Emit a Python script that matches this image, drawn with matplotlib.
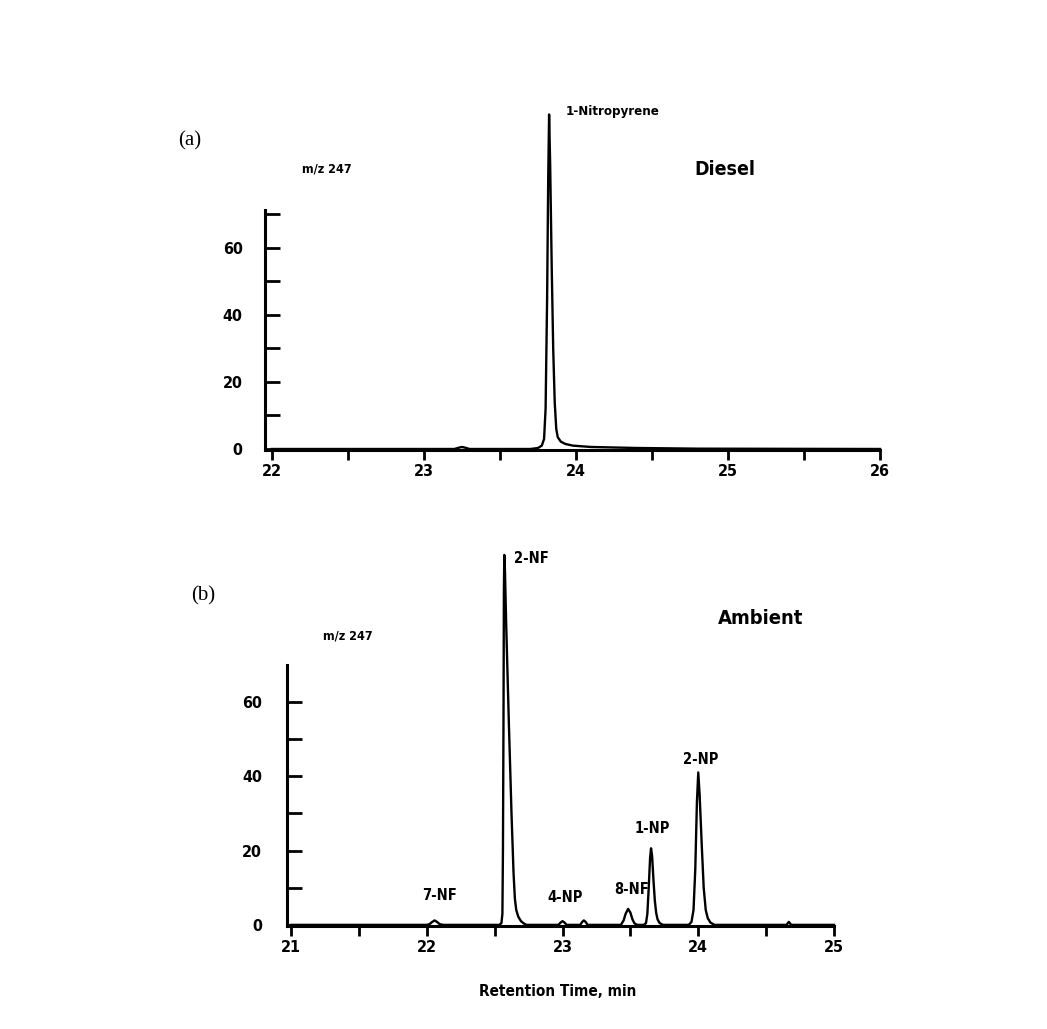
import matplotlib
matplotlib.use("Agg")
import matplotlib.pyplot as plt
from matplotlib import font_manager
from matplotlib.font_manager import FontProperties
from matplotlib.ticker import MultipleLocator

# trace (a): diesel, m/z 247
time_a = [22.0, 23.20, 23.23, 23.25, 23.27, 23.30, 23.70, 23.75, 23.775, 23.79, 23.80,
          23.81, 23.817, 23.823, 23.83, 23.84, 23.85, 23.86, 23.87, 23.88, 23.90, 23.93,
          23.98, 24.1, 24.4, 24.8, 26.0]
resp_a = [0, 0, 0.4, 0.6, 0.4, 0, 0, 0.3, 1.0, 3, 12,
          45, 80, 99.8, 85, 55, 30, 14, 6, 3.5, 2.2, 1.5,
          1.0, 0.6, 0.3, 0.1, 0]

# trace (b): ambient, m/z 247
time_b = [21.0, 22.0, 22.02, 22.04, 22.057, 22.075, 22.095, 22.12,
          22.535, 22.55, 22.557, 22.561, 22.565, 22.568, 22.571, 22.576, 22.584, 22.604,
          22.624, 22.639, 22.649, 22.659, 22.674, 22.694, 22.714, 22.734,
          22.97, 22.985, 23.0, 23.015, 23.03,
          23.13, 23.145, 23.157, 23.17, 23.185,
          23.43, 23.45, 23.465, 23.483, 23.50, 23.515, 23.53, 23.55,
          23.60, 23.615, 23.625, 23.635, 23.645, 23.652, 23.66, 23.67, 23.68, 23.69,
          23.70, 23.715, 23.74,
          23.93, 23.95, 23.965, 23.978, 23.99, 24.0, 24.01, 24.025, 24.04, 24.055,
          24.07, 24.09, 24.12,
          24.65, 24.667, 24.685, 25.0]
resp_b = [0, 0, 0.2, 0.8, 1.2, 0.8, 0.2, 0,
          0, 0.5, 3, 20, 55, 90, 99.5, 95, 82, 55,
          30, 14, 7, 4, 2.2, 1.0, 0.4, 0,
          0, 0.6, 1.0, 0.6, 0,
          0, 0.8, 1.2, 0.8, 0,
          0, 1.2, 3.0, 4.3, 3.3, 1.5, 0.4, 0,
          0, 0.5, 3, 10, 18, 20.6, 18.5, 12, 6.5, 3.2,
          1.5, 0.5, 0,
          0, 0.8, 4, 15, 33, 41, 35, 22, 10, 4,
          1.8, 0.6, 0,
          0, 0.8, 0, 0]

peaks_b = ["7-NF", "2-NF", "4-NP", "8-NF", "1-NP", "2-NP"]
peaks_b_xy = [(22.09, 7.8), (22.64, 98.5), (23.02, 7.3), (23.51, 9.4), (23.66, 25.8), (24.02, 44.6)]

# look for a condensed bold sans face; fall back to DejaVu Sans bold
cond = None
for f in font_manager.fontManager.ttflist:
    tag = (f.name + " " + f.fname).lower()
    if ('narrow' in tag or 'condensed' in tag or 'cond' in str(f.stretch)) and f.weight in ('bold', 700):
        cond = f.fname
        break
SCALE = 1.0 if cond else 0.82


def fp(size):
    if cond:
        return FontProperties(fname=cond, size=size)
    return FontProperties(family='DejaVu Sans', weight='bold', size=size * SCALE)


W, H = 1047, 1029
fig = plt.figure(figsize=(W / 100, H / 100), dpi=100)


def style(ax, xmin, xmax, ymax, xticks, ypad):
    ax.set_xlim(xmin, xmax)
    ax.set_ylim(-0.3, ymax)
    for s in ['top', 'right']:
        ax.spines[s].set_visible(False)
    for s in ['left', 'bottom']:
        ax.spines[s].set_linewidth(2.2)
    ax.spines['left'].set_bounds(-0.3, ymax)
    ax.set_xticks(xticks)
    ax.xaxis.set_minor_locator(MultipleLocator(0.5))
    ax.set_yticks([0, 20, 40, 60])
    ax.yaxis.set_minor_locator(MultipleLocator(10))
    ax.tick_params(axis='x', which='both', direction='out', length=7, width=2, pad=3)
    ax.tick_params(axis='y', which='both', direction='in', length=10.5, width=2, pad=ypad)
    for lab in ax.get_xticklabels() + ax.get_yticklabels():
        lab.set_fontproperties(fp(11.5))


serif = FontProperties(family=['Liberation Serif', 'DejaVu Serif'], size=15)

# panel (a)
ax1 = fig.add_axes([265 / W, 1 - 450 / H, 615 / W, 240 / H])
ax1.plot(time_a, resp_a, color='black', lw=1.7, clip_on=False)
style(ax1, 21.954, 26.0, 71.3, [22, 23, 24, 25, 26], 16)
ax1.text(23.93, 100.6, "1-Nitropyrene", fontproperties=fp(9.5), ha='left', va='center')
ax1.text(24.98, 83.3, "Diesel", fontproperties=fp(14), ha='center', va='center')
ax1.text(22.36, 83.6, "m/z 247", fontproperties=fp(9), ha='center', va='center')
fig.text(190 / W, 1 - 141 / H, "(a)", fontproperties=serif, ha='center', va='center')

# panel (b)
ax2 = fig.add_axes([287 / W, 1 - 926 / H, 547 / W, 261 / H])
ax2.plot(time_b, resp_b, color='black', lw=1.7, clip_on=False)
style(ax2, 20.97, 25.0, 69.9, [21, 22, 23, 24, 25], 18)
for name, (px, py) in zip(peaks_b, peaks_b_xy):
    ha = 'left' if name == "2-NF" else 'center'
    ax2.text(px, py, name, fontproperties=fp(10.5), ha=ha, va='center')
ax2.text(24.46, 82.3, "Ambient", fontproperties=fp(14.5), ha='center', va='center')
ax2.text(21.42, 77.7, "m/z 247", fontproperties=fp(9), ha='center', va='center')
fig.text(203 / W, 1 - 596 / H, "(b)", fontproperties=serif, ha='center', va='center')
fig.text(558 / W, 1 - 991.5 / H, "Retention Time, min", fontproperties=fp(11),
         ha='center', va='center')

fig.savefig("out.png", dpi=100)
